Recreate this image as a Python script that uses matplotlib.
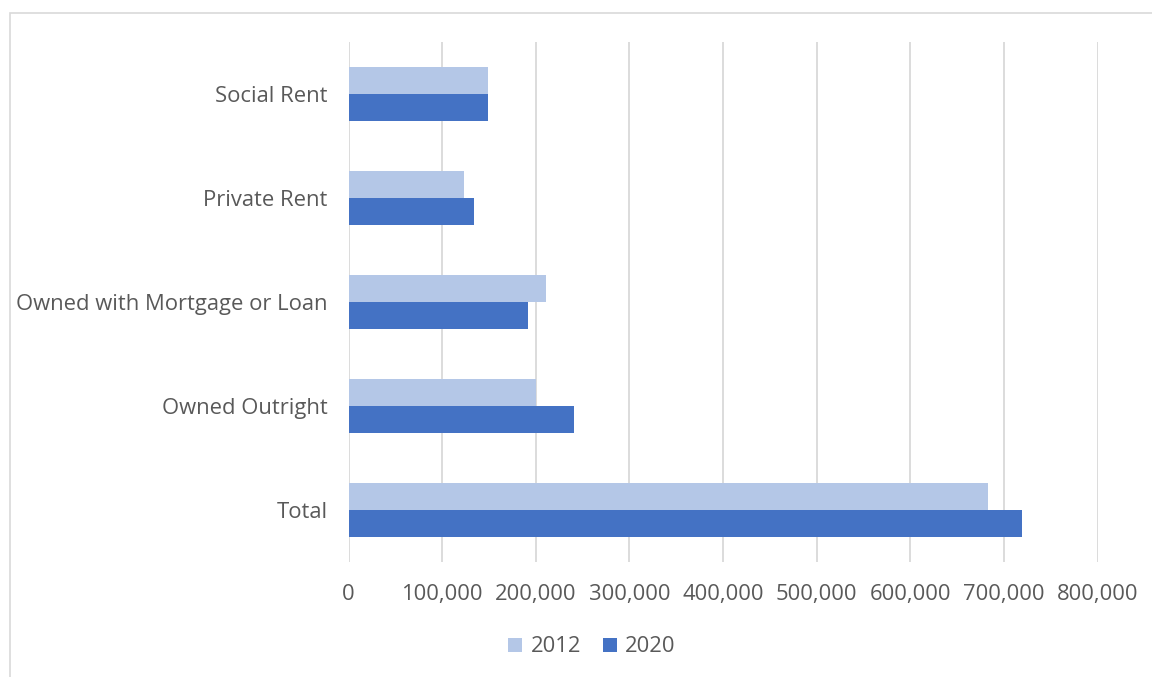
import matplotlib.pyplot as plt
from matplotlib.patches import Rectangle
from matplotlib.ticker import FuncFormatter

categories = ['Total', 'Owned Outright', 'Owned with Mortgage or Loan',
              'Private Rent', 'Social Rent']
values_2012 = [683000, 200000, 211000, 123000, 149000]
values_2020 = [719500, 241000, 192000, 134000, 148500]
x_ticks = [0, 100000, 200000, 300000, 400000, 500000, 600000, 700000, 800000]

plt.rcParams['font.family'] = ['Open Sans', 'DejaVu Sans']

fig = plt.figure(figsize=(11.52, 6.77), dpi=100)
ax = fig.add_axes([348.5 / 1152, 1 - 562 / 677, 749 / 1152, 520 / 677])

# chart border like the excel chart area
fig.patches.append(Rectangle((10 / 1152, -0.1), 1.2, 1.1 - 13 / 677,
                             transform=fig.transFigure, fill=False,
                             edgecolor='#D9D9D9', linewidth=1.2))

h = 0.26
pos = range(len(categories))
ax.barh([p + h / 2 for p in pos], values_2012, height=h, color='#B4C7E7', label='2012')
ax.barh([p - h / 2 for p in pos], values_2020, height=h, color='#4472C4', label='2020')

ax.set_xlim(0, 800000)
ax.set_ylim(-0.5, 4.5)
ax.set_xticks(x_ticks)
ax.xaxis.set_major_formatter(FuncFormatter(lambda v, _: f'{int(v):,}'))
ax.set_yticks(list(pos))
ax.set_yticklabels(categories)

ax.grid(axis='x', color='#D9D9D9', linewidth=1.3)
ax.set_axisbelow(True)
for s in ax.spines.values():
    s.set_visible(False)
ax.tick_params(axis='both', length=0, labelsize=15.8, colors='#595959')
ax.tick_params(axis='x', pad=16)
ax.tick_params(axis='y', pad=15)

fig.legend(loc='center', bbox_to_anchor=(592 / 1152, 1 - 647 / 677), ncol=2,
           frameon=False, fontsize=15.8, labelcolor='#595959',
           handlelength=0.62, handleheight=0.62, handletextpad=0.4, columnspacing=1.0)

fig.savefig('out.png', dpi=100)
